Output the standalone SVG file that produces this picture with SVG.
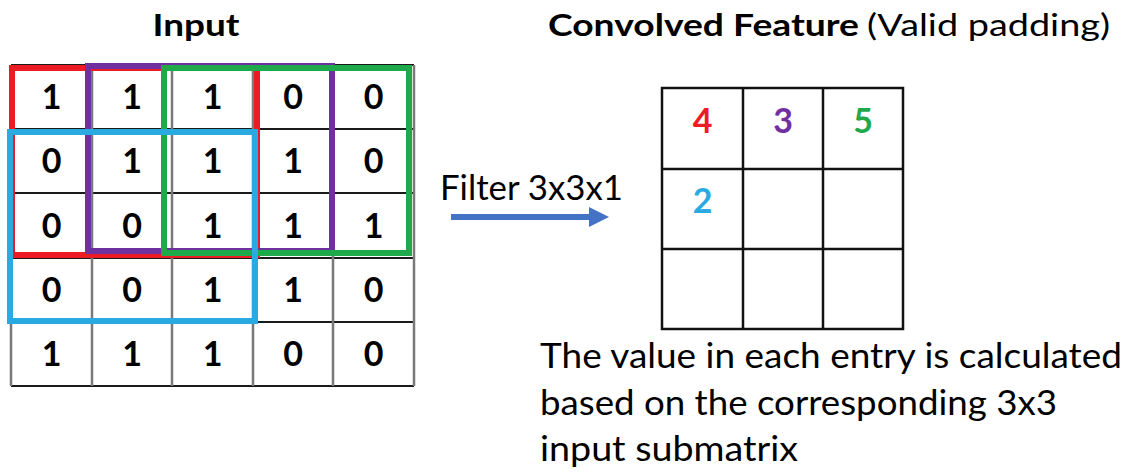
<svg xmlns="http://www.w3.org/2000/svg" width="1127" height="472" viewBox="0 0 1127 472">
<style>
text{font-family:Lato,"Liberation Sans",sans-serif;fill:#000}
.d{font-size:34px;font-weight:bold;text-anchor:middle}
.t{font-size:34px}
.vg{stroke:#7a7a7a;stroke-width:2.5}
.hg{stroke:#1a1a1a;stroke-width:2}
.og{stroke:#111;stroke-width:2.5;fill:none}
.box{fill:none;stroke-width:6}
</style>
<rect width="1127" height="472" fill="#fff"/>
<g id="input">
<text x="196" y="36" style="font-size:31px;font-weight:bold" text-anchor="middle" textLength="87" lengthAdjust="spacingAndGlyphs">Input</text>
<g id="input-grid">
<line class="hg" x1="11" y1="65" x2="414" y2="65"/>
<line class="hg" x1="11" y1="129" x2="414" y2="129"/>
<line class="hg" x1="11" y1="193" x2="414" y2="193"/>
<line class="hg" x1="11" y1="258" x2="414" y2="258"/>
<line class="hg" x1="11" y1="322" x2="414" y2="322"/>
<line class="hg" x1="11" y1="386" x2="414" y2="386"/>
<line class="vg" x1="11" y1="65" x2="11" y2="386"/>
<line class="vg" x1="92" y1="65" x2="92" y2="386"/>
<line class="vg" x1="172" y1="65" x2="172" y2="386"/>
<line class="vg" x1="253" y1="65" x2="253" y2="386"/>
<line class="vg" x1="333" y1="65" x2="333" y2="386"/>
<line class="vg" x1="414" y1="65" x2="414" y2="386"/>
</g>
<g id="input-values">
<text class="d" x="51.5" y="109">1</text><text class="d" x="132" y="109">1</text><text class="d" x="212.5" y="109">1</text><text class="d" x="293" y="109">0</text><text class="d" x="373.5" y="109">0</text>
<text class="d" x="51.5" y="173">0</text><text class="d" x="132" y="173">1</text><text class="d" x="212.5" y="173">1</text><text class="d" x="293" y="173">1</text><text class="d" x="373.5" y="173">0</text>
<text class="d" x="51.5" y="237.5">0</text><text class="d" x="132" y="237.5">0</text><text class="d" x="212.5" y="237.5">1</text><text class="d" x="293" y="237.5">1</text><text class="d" x="373.5" y="237.5">1</text>
<text class="d" x="51.5" y="302">0</text><text class="d" x="132" y="302">0</text><text class="d" x="212.5" y="302">1</text><text class="d" x="293" y="302">1</text><text class="d" x="373.5" y="302">0</text>
<text class="d" x="51.5" y="366">1</text><text class="d" x="132" y="366">1</text><text class="d" x="212.5" y="366">1</text><text class="d" x="293" y="366">0</text><text class="d" x="373.5" y="366">0</text>
</g>
<g id="windows">
<rect class="box" x="12" y="68" width="245" height="187" stroke="#ED1C24"/>
<rect class="box" x="88" y="66" width="244" height="185" stroke="#7030A0"/>
<rect class="box" x="164" y="68" width="245" height="185" stroke="#1EAA4A"/>
<rect class="box" x="10" y="132" width="245" height="189" stroke="#29ABE2"/>
</g>
</g>
<g id="connectors">
<line x1="451" y1="217" x2="592" y2="217" stroke="#4472C4" stroke-width="6"/>
<polygon points="589,207 609,217 589,227" fill="#4472C4"/>
<text class="t" x="440" y="200" textLength="183" lengthAdjust="spacingAndGlyphs">Filter 3x3x1</text>
</g>
<g id="output">
<text x="548" y="36" style="font-size:30px;font-weight:bold" textLength="311" lengthAdjust="spacingAndGlyphs">Convolved Feature</text>
<text x="867" y="36" style="font-size:30px" textLength="243" lengthAdjust="spacingAndGlyphs">(Valid padding)</text>
<rect class="og" x="662" y="88" width="241" height="241"/>
<line class="og" x1="743" y1="88" x2="743" y2="329"/>
<line class="og" x1="823" y1="88" x2="823" y2="329"/>
<line class="og" x1="662" y1="169" x2="903" y2="169"/>
<line class="og" x1="662" y1="249" x2="903" y2="249"/>
<text class="d" x="702.5" y="133" style="fill:#ED1C24">4</text>
<text class="d" x="783" y="133" style="fill:#7030A0">3</text>
<text class="d" x="863" y="133" style="fill:#1EAA4A">5</text>
<text class="d" x="702.5" y="213" style="fill:#29ABE2">2</text>
</g>
<g id="caption">
<text class="t" x="540" y="368" textLength="582" lengthAdjust="spacingAndGlyphs">The value in each entry is calculated</text>
<text class="t" x="540" y="415" textLength="517" lengthAdjust="spacingAndGlyphs">based on the corresponding 3x3</text>
<text class="t" x="540" y="461" textLength="258" lengthAdjust="spacingAndGlyphs">input submatrix</text>
</g>
</svg>
